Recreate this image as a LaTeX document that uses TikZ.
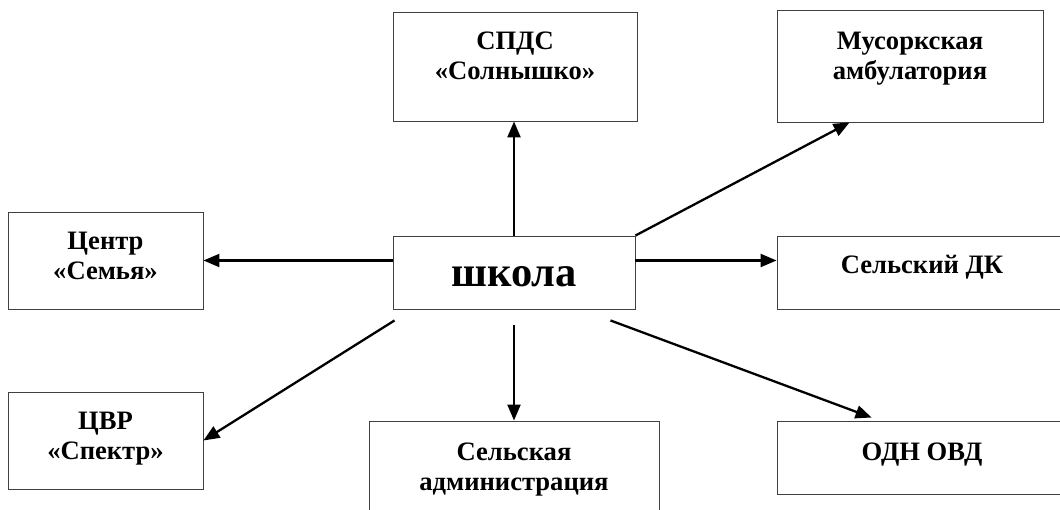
\documentclass[tikz,border=0pt]{standalone}
\usepackage{fontspec}
\setmainfont{Liberation Serif}
\usetikzlibrary{positioning,arrows.meta}
\tikzset{
  orgbox/.style={draw=black!75, line width=0.9pt, inner sep=0pt},
  orgtext/.style={inner sep=0pt, align=center, font=\fontsize{26.6}{30}\selectfont\bfseries},
  link/.style={line width=2.3pt, -{Triangle[length=16pt,width=13pt]}}
}

\begin{document}
\begin{tikzpicture}[x=1pt,y=1pt]
\useasboundingbox (0,0) rectangle (1060,510);
\clip (0,0) rectangle (1060,510);
% First the frames, the school in the middle
\node[orgbox, minimum width=242pt, minimum height=73pt]  (school) at (514,237.5) {};
\node[orgbox, minimum width=244pt, minimum height=109pt] (spds)   at (515,443.5) {};
\node[orgbox, minimum width=266pt, minimum height=112pt] (mus)    at (910,444) {};
\node[orgbox, minimum width=195pt, minimum height=97pt]  (centr)  at (105.5,249.5) {};
\node[orgbox, minimum width=290pt, minimum height=73pt]  (dk)     at (922,237.5) {};
\node[orgbox, minimum width=195pt, minimum height=97pt]  (cvr)    at (105.5,69.5) {};
\node[orgbox, minimum width=290pt, minimum height=108pt] (adm)    at (514,35) {};
\node[orgbox, minimum width=290pt, minimum height=73pt]  (odn)    at (922,52.5) {};
% The texts sit near the top of each frame
\node[orgtext, font=\fontsize{42.5}{46}\selectfont\bfseries, below=31pt of school.north] (schoolT) {школа};
\node[orgtext, below=20pt of spds.north]  (spdsT)  {СПДС\\«Солнышко»};
\node[orgtext, below=22pt of mus.north]   (musT)   {Мусоркская\\амбулатория};
\node[orgtext, below=20pt of centr.north] (centrT) {Центр\\«Семья»};
\node[orgtext, below=19pt of dk.north]    (dkT)    {Сельский ДК};
\node[orgtext, below=20pt of cvr.north]   (cvrT)   {ЦВР\\«Спектр»};
\node[orgtext, below=22pt of adm.north]   (admT)   {Сельская\\администрация};
\node[orgtext, below=22pt of odn.north]   (odnT)   {ОДН ОВД};
% Now the links going out of the school
\draw[link] (school.north) -- (school.north |- spds.south);
\draw[link] (school.north east) -- ([xshift=73pt]mus.south west);
\draw[link] (school.west |- centr.east) -- (centr.east);
\draw[link] ([yshift=12pt]school.east) -- ([yshift=12pt]dk.west);
\draw[link] ([xshift=2pt,yshift=-11pt]school.south west) -- (cvr.east);
\draw[link] ([yshift=-16pt]school.south) -- (adm.north);
\draw[link] ([xshift=-25pt,yshift=-11pt]school.south east) -- ([xshift=95pt,yshift=3pt]odn.north west);
\end{tikzpicture}
\end{document}
